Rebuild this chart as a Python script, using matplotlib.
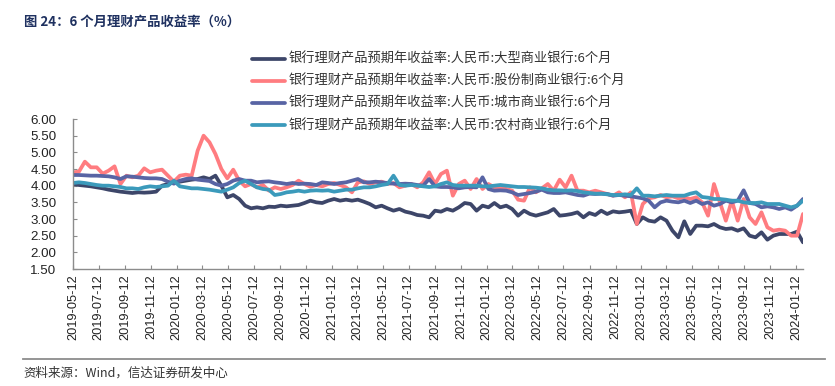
import matplotlib
matplotlib.use("Agg")
import matplotlib.pyplot as plt
import pandas as pd
from matplotlib.lines import Line2D

# ---------------- data ----------------
start_date = "2019-05-12"   # biweekly observations
big_banks = [4.05, 4.02, 4.00, 3.98, 3.95, 3.92, 3.88, 3.85, 3.82, 3.80,
             3.78, 3.80, 3.79, 3.80, 3.82, 4.00, 4.05, 4.10, 4.12, 4.15,
             4.18, 4.20, 4.25, 4.20, 4.30, 4.00, 3.65, 3.72, 3.60, 3.40,
             3.32, 3.35, 3.32, 3.37, 3.36, 3.40, 3.38, 3.40, 3.42, 3.48,
             3.55, 3.50, 3.48, 3.55, 3.60, 3.55, 3.58, 3.55, 3.58, 3.52,
             3.45, 3.35, 3.40, 3.32, 3.25, 3.30, 3.22, 3.18, 3.12, 3.10,
             3.05, 3.25, 3.22, 3.30, 3.25, 3.35, 3.48, 3.45, 3.25, 3.40,
             3.35, 3.48, 3.35, 3.40, 3.30, 3.10, 3.25, 3.15, 3.10, 3.15,
             3.20, 3.30, 3.10, 3.12, 3.15, 3.20, 3.05, 3.18, 3.12, 3.25,
             3.15, 3.23, 3.20, 3.22, 3.25, 2.85, 3.05, 2.95, 2.92, 3.05,
             2.95, 2.65, 2.45, 2.93, 2.55, 2.80, 2.80, 2.78, 2.85, 2.75,
             2.70, 2.72, 2.65, 2.72, 2.50, 2.45, 2.60, 2.38, 2.50, 2.55,
             2.55, 2.55, 2.62, 2.30]
joint_stock = [4.40, 4.42, 4.72, 4.55, 4.55, 4.36, 4.45, 4.58, 4.05, 4.30,
               4.25, 4.30, 4.52, 4.40, 4.45, 4.48, 4.30, 4.12, 4.30, 4.33,
               4.30, 5.05, 5.50, 5.30, 4.95, 4.50, 4.22, 4.48, 4.15, 3.98,
               4.05, 3.95, 4.02, 3.85, 3.95, 3.90, 3.95, 4.02, 4.15, 4.05,
               3.97, 4.02, 3.98, 4.05, 4.08, 4.02, 3.95, 3.80, 4.10, 4.13,
               4.05, 4.10, 4.12, 4.05, 4.08, 3.95, 4.00, 4.05, 3.95, 4.10,
               4.40, 4.05, 4.35, 4.45, 3.70, 4.05, 4.15, 3.90, 4.20, 3.90,
               4.05, 3.95, 3.95, 3.90, 3.85, 3.58, 3.55, 3.95, 3.80, 3.92,
               4.05, 3.85, 4.18, 3.95, 4.30, 3.85, 3.85, 3.80, 3.85, 3.80,
               3.75, 3.70, 3.80, 3.65, 3.80, 2.85, 3.45, 3.62, 3.65, 3.72,
               3.65, 3.68, 3.62, 3.65, 3.60, 3.65, 3.50, 3.10, 4.05, 3.50,
               2.95, 3.55, 2.95, 3.60, 3.05, 2.85, 3.20, 2.75, 2.65, 2.68,
               2.65, 2.50, 2.50, 3.15]
city_banks = [4.32, 4.32, 4.31, 4.30, 4.30, 4.29, 4.28, 4.25, 4.20, 4.28,
              4.27, 4.25, 4.23, 4.22, 4.22, 4.20, 4.12, 4.06, 4.15, 4.20,
              4.22, 4.18, 4.16, 4.14, 4.05, 4.00, 4.05, 4.15, 4.20, 4.15,
              4.15, 4.10, 4.12, 4.13, 4.10, 4.08, 4.05, 4.08, 4.05, 4.06,
              4.05, 4.02, 4.10, 4.08, 4.05, 4.08, 4.10, 4.15, 4.20, 4.10,
              4.10, 4.12, 4.10, 4.08, 4.06, 4.05, 4.06, 4.05, 4.02, 4.00,
              4.20, 3.98, 3.96, 3.96, 3.95, 3.92, 3.95, 3.96, 3.95, 4.25,
              3.90, 3.85, 3.86, 3.85, 3.80, 3.72, 3.75, 3.78, 3.82, 3.88,
              3.80, 3.78, 3.78, 3.80, 3.76, 3.72, 3.70, 3.76, 3.75, 3.76,
              3.75, 3.70, 3.72, 3.70, 3.68, 3.65, 3.62, 3.55, 3.35, 3.50,
              3.55, 3.52, 3.50, 3.55, 3.48, 3.55, 3.45, 3.50, 3.40, 3.45,
              3.55, 3.50, 3.55, 3.86, 3.48, 3.45, 3.35, 3.38, 3.35, 3.30,
              3.35, 3.28, 3.40, 3.60]
rural_banks = [4.08, 4.10, 4.08, 4.05, 4.02, 4.00, 4.00, 3.98, 3.96, 3.92,
               3.92, 3.90, 3.95, 3.98, 3.96, 3.98, 4.00, 4.15, 3.98, 3.95,
               3.92, 3.92, 3.90, 3.88, 3.85, 3.82, 3.88, 3.95, 4.08, 4.15,
               4.05, 3.95, 3.90, 3.88, 3.72, 3.75, 3.80, 3.82, 3.85, 3.82,
               3.85, 3.86, 3.85, 3.86, 3.82, 3.85, 3.88, 3.88, 3.92, 3.95,
               3.95, 3.98, 4.02, 4.05, 4.30, 4.02, 4.00, 4.02, 4.00, 3.98,
               3.96, 3.98, 4.05, 4.10, 4.02, 4.00, 4.00, 4.00, 4.00, 3.98,
               3.98, 4.00, 4.02, 4.00, 3.98, 3.96, 3.96, 3.95, 3.94, 3.92,
               3.88, 3.86, 3.86, 3.85, 3.86, 3.84, 3.80, 3.78, 3.76, 3.76,
               3.74, 3.72, 3.72, 3.74, 3.72, 3.92, 3.70, 3.70, 3.68, 3.70,
               3.72, 3.70, 3.70, 3.70, 3.76, 3.80, 3.66, 3.64, 3.60, 3.60,
               3.58, 3.55, 3.55, 3.50, 3.48, 3.48, 3.50, 3.45, 3.45, 3.45,
               3.40, 3.35, 3.40, 3.55]

series_labels = [
    "银行理财产品预期年收益率:人民币:大型商业银行:6个月",
    "银行理财产品预期年收益率:人民币:股份制商业银行:6个月",
    "银行理财产品预期年收益率:人民币:城市商业银行:6个月",
    "银行理财产品预期年收益率:人民币:农村商业银行:6个月",
]
tick_labels = ["2019-05-12", "2019-07-12", "2019-09-12", "2019-11-12",
               "2020-01-12", "2020-03-12", "2020-05-12", "2020-07-12",
               "2020-09-12", "2020-11-12", "2021-01-12", "2021-03-12",
               "2021-05-12", "2021-07-12", "2021-09-12", "2021-11-12",
               "2022-01-12", "2022-03-12", "2022-05-12", "2022-07-12",
               "2022-09-12", "2022-11-12", "2023-01-12", "2023-03-12",
               "2023-05-12", "2023-07-12", "2023-09-12", "2023-11-12",
               "2024-01-12"]
y_ticks = [1.5, 2.0, 2.5, 3.0, 3.5, 4.0, 4.5, 5.0, 5.5, 6.0]
title = "图 24：6 个月理财产品收益率（%）"
source = "资料来源：Wind，信达证券研发中心"

colors = ["#3d4669", "#ff7c80", "#5864a4", "#3b9abb"]

# ---------------- figure ----------------
W, H = 835, 386
fig = plt.figure(figsize=(W / 100, H / 100), dpi=100)
cjk = ["Noto Sans CJK SC", "DejaVu Sans"]
latin = ["Liberation Sans", "DejaVu Sans"]

ax = fig.add_axes([73 / W, 1 - 269 / H, (803 - 73) / W, (269 - 119) / H])

dates = pd.date_range(start_date, periods=len(big_banks), freq="14D")
all_series = [big_banks, joint_stock, city_banks, rural_banks]
handles = []
for vals, col, lab in zip(all_series, colors, series_labels):
    ln, = ax.plot(dates, vals, color=col, lw=2.7, solid_joinstyle="round",
                  solid_capstyle="round", label=lab)
    handles.append(ln)

ax.set_ylim(1.5, 6.0)
ax.set_yticks(y_ticks)
ax.set_yticklabels([f"{v:.2f}" for v in y_ticks], family=latin, fontsize=9.6,
                   color="#222222")
tick_pos = pd.to_datetime(tick_labels)
ax.set_xticks(tick_pos)
ax.set_xticklabels(tick_labels, rotation=90, family=latin, fontsize=9.2,
                   color="#222222")
ax.set_xlim(pd.Timestamp(start_date), dates[-1])

for s in ["top", "right"]:
    ax.spines[s].set_visible(False)
for s in ["left", "bottom"]:
    ax.spines[s].set_color("#8c8c8c")
    ax.spines[s].set_linewidth(1.0)
ax.tick_params(axis="both", direction="in", length=3, width=0.8,
               colors="#8c8c8c", labelcolor="#222222")
ax.tick_params(axis="y", pad=12)
ax.tick_params(axis="x", pad=4)

leg = fig.legend(handles=handles, labels=series_labels, loc="upper left",
                 bbox_to_anchor=(252 / W, 1 - 53 / H), frameon=False,
                 prop={"family": cjk, "size": 9.5}, handlelength=2.5,
                 handletextpad=0.3, labelspacing=0.68, borderpad=0,
                 borderaxespad=0)
for t in leg.get_texts():
    t.set_color("#333333")

fig.text(24 / W, 1 - 22 / H, title, family=cjk, fontsize=9.6,
         fontweight="bold", color="#1f3160", ha="left", va="center")

fig.add_artist(Line2D([23 / W, 825 / W], [1 - 359 / H, 1 - 359 / H],
                      transform=fig.transFigure, color="#8c8c8c", lw=1.3))
fig.text(23 / W, 1 - 373 / H, source, family=cjk, fontsize=9.0,
         color="#333333", ha="left", va="center", style="italic")

fig.savefig("out.png", dpi=100)
